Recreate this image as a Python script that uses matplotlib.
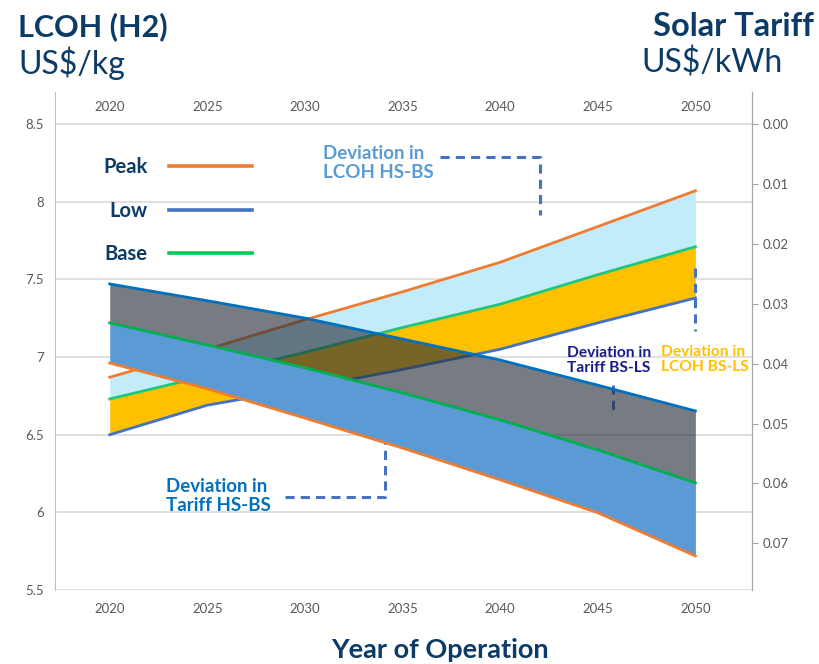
import matplotlib
matplotlib.use("Agg")
import matplotlib.pyplot as plt
from matplotlib.lines import Line2D

plt.rcParams['font.family'] = ['Lato', 'DejaVu Sans']

years = [2020, 2025, 2030, 2035, 2040, 2045, 2050]

# LCOH (H2), US$/kg  - left axis
lcoh_peak = [6.87, 7.05, 7.24, 7.42, 7.61, 7.84, 8.07]
lcoh_base = [6.73, 6.88, 7.03, 7.19, 7.34, 7.53, 7.71]
lcoh_low = [6.50, 6.69, 6.80, 6.92, 7.05, 7.22, 7.38]

# Solar tariff, US$/kWh - right axis (inverted)
tariff_low = [0.0267, 0.0295, 0.0324, 0.0359, 0.0394, 0.0436, 0.0479]
tariff_base = [0.0332, 0.0369, 0.0407, 0.0449, 0.0494, 0.0544, 0.0599]
tariff_peak = [0.0399, 0.0442, 0.0491, 0.0541, 0.0594, 0.0649, 0.0721]

left_ticks = [5.5, 6, 6.5, 7, 7.5, 8, 8.5]
right_ticks = [0.00, 0.01, 0.02, 0.03, 0.04, 0.05, 0.06, 0.07]

navy = "#0B3B66"
tick_grey = "#595959"
orange = "#ED7D31"
blue_lcoh = "#4472C4"
blue_tariff = "#0070C0"
green = "#00B050"
dash_col = "#4472C4"

fig = plt.figure(figsize=(8.19, 6.64), dpi=100)
ax = fig.add_axes([0.0672, 0.1114, 0.851, 0.75])
ax2 = ax.twinx()
ax.set_zorder(1)
ax2.set_zorder(2)
ax2.patch.set_visible(False)

# LCOH bands and lines
ax.fill_between(years, lcoh_base, lcoh_peak, color="#C3ECFB", lw=0, zorder=2)
ax.fill_between(years, lcoh_low, lcoh_base, color="#FFC000", lw=0, zorder=2)
ax.plot(years, lcoh_peak, color=orange, lw=2, zorder=3)
ax.plot(years, lcoh_base, color="#1FC77A", lw=2, zorder=3)
ax.plot(years, lcoh_low, color=blue_lcoh, lw=2, zorder=3)

# tariff bands and lines
ax2.fill_between(years, tariff_low, tariff_base, color="#2A323E", alpha=0.64, lw=0, zorder=2)
ax2.fill_between(years, tariff_base, tariff_peak, color="#5B9BD5", lw=0, zorder=2)
ax2.plot(years, tariff_low, color=blue_tariff, lw=2, zorder=3)
ax2.plot(years, tariff_base, color=green, lw=2, zorder=3)
ax2.plot(years, tariff_peak, color=orange, lw=2, zorder=3)

ax.set_xlim(2017.2, 2052.9)
ax.set_ylim(5.5, 8.706)
ax2.set_ylim(0.0778, -0.00534)

ax.set_yticks(left_ticks)
ax.set_yticklabels(["5.5", "6", "6.5", "7", "7.5", "8", "8.5"])
ax2.set_yticks(right_ticks)
ax2.set_yticklabels(["%.2f" % t for t in right_ticks])
ax.set_xticks(years)
ax.grid(axis='y', color="#D9D9D9", lw=1.2, zorder=0)
ax.set_axisbelow(True)

for a in (ax, ax2):
    for s in ("top", "bottom"):
        a.spines[s].set_visible(False)
    a.spines["left"].set_color("#BFBFBF")
    a.spines["right"].set_color("#A6A6A6")
ax2.spines["left"].set_visible(False)

ax.tick_params(axis='x', length=0, pad=9, labelsize=9.5, labelcolor=tick_grey)
ax.tick_params(axis='y', length=0, pad=8, labelsize=9.5, labelcolor=tick_grey)
ax2.tick_params(axis='y', length=4, color="#A6A6A6", pad=4, labelsize=9.5, labelcolor=tick_grey)

top = ax.secondary_xaxis('top')
top.set_xticks(years)
top.tick_params(length=0, pad=-15, labelsize=9.5, labelcolor=tick_grey)
top.spines["top"].set_visible(False)

# legend
handles = [Line2D([], [], color=orange, lw=2.6),
           Line2D([], [], color=blue_lcoh, lw=2.6),
           Line2D([], [], color="#00CC55", lw=2.6)]
leg = ax2.legend(handles, ["Peak", "Low", "Base"], loc="upper left",
                 bbox_to_anchor=(0.043, 0.905), frameon=False, markerfirst=False,
                 handlelength=4.15, handletextpad=1.05, labelspacing=1.15,
                 prop={'weight': 'bold', 'size': 14.5})
for t in leg.get_texts():
    t.set_color(navy)

# annotations
ax.text(2030.9, 8.25, "Deviation in\nLCOH HS-BS", color="#5B9BD5", fontsize=13.5,
        fontweight="bold", va="center", ha="left", zorder=6, linespacing=1.15)
ax.plot([2036.9, 2042.05, 2042.05], [8.288, 8.288, 7.915], ls=(0, (3, 2)),
        color=dash_col, lw=2.2, zorder=6)

ax.text(2022.9, 6.108, "Deviation in\nTariff HS-BS", color=blue_tariff, fontsize=13.5,
        fontweight="bold", va="center", ha="left", zorder=6, linespacing=1.15)
ax.plot([2028.97, 2034.1, 2034.1], [6.101, 6.101, 6.584], ls=(0, (3, 2)),
        color=dash_col, lw=2.2, zorder=6)

ax2.text(2043.4, 0.0395, "Deviation in\nTariff BS-LS", color="#1A1A8C", fontsize=11.2,
         fontweight="bold", va="center", ha="left", zorder=6, linespacing=1.15)
ax.plot([2045.8, 2045.8], [6.822, 6.629], ls=(0, (3, 2)), color=dash_col, lw=2.2, zorder=6)

ax2.text(2048.25, 0.0393, "Deviation in\nLCOH BS-LS", color="#FFC000", fontsize=11.2,
         fontweight="bold", va="center", ha="left", zorder=6, linespacing=1.15)
ax2.plot([2050, 2050], [0.0241, 0.0345], ls=(0, (3, 2)), color=dash_col, lw=2.2, zorder=6)

# titles
fig.text(18 / 819, 1 - 27 / 664, "LCOH (H2)", color=navy, fontsize=22, fontweight="bold",
         ha="left", va="center")
fig.text(18 / 819, 1 - 63 / 664, "US$/kg", color=navy, fontsize=23, ha="left", va="center")
fig.text(814 / 819, 1 - 27 / 664, "Solar Tariff", color=navy, fontsize=23.5, fontweight="bold",
         ha="right", va="center")
fig.text(783 / 819, 1 - 63 / 664, "US$/kWh", color=navy, fontsize=23, ha="right", va="center")
fig.text(440 / 819, 1 - 650 / 664, "Year of Operation", color=navy, fontsize=19.5,
         fontweight="bold", ha="center", va="center")

fig.savefig("out.png", dpi=100)
